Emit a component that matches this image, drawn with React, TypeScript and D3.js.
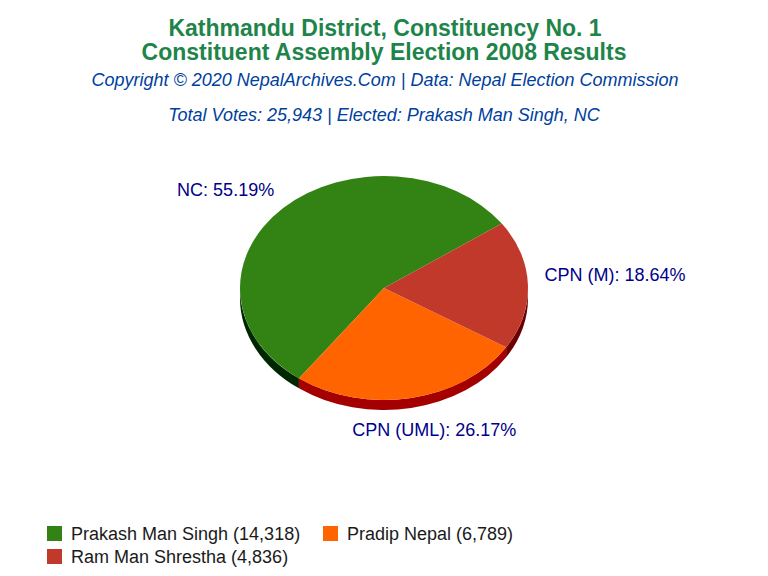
import React from "react";
import * as d3 from "d3";

const parties = ["NC", "CPN (UML)", "CPN (M)"];
const candidates = ["Prakash Man Singh", "Pradip Nepal", "Ram Man Shrestha"];
const votes = [14318, 6789, 4836];
const percents = ["55.19%", "26.17%", "18.64%"];
const topColors = ["#328214", "#ff6400", "#c0392b"];
const sideColors = ["#002800", "#a50000", "#6b0000"];

const width = 768;
const height = 576;
const cx = 384;
const cy = 288;
const rx = 144;
const ry = 112;
const depth = 10;
const startDeg = 54.9;

const FONT = "'Liberation Sans', Arial, sans-serif";

// label placement relative to the slice's outer edge
const labelOffsets: { dx: number; dy: number; anchor: string }[] = [
  { dx: -9, dy: -12, anchor: "end" },
  { dx: 23, dy: 38, anchor: "middle" },
  { dx: 16.5, dy: -4, anchor: "start" },
];

const rad = (d: number) => (d * Math.PI) / 180;

const slices = d3
  .pie<number>()
  .sort(null)
  .startAngle(rad(startDeg))
  .endAngle(rad(startDeg - 360))(votes);

const arcGen = d3.arc<any>().innerRadius(0).outerRadius(1);

// Front wall of a slice, in unit circle space. Only the lower half of the pie shows it.
function sidePath(a0: number, a1: number) {
  const lo = Math.min(a0, a1);
  const hi = Math.max(a0, a1);
  const parts: string[] = [];
  // check both windows since slices can cross -180 deg
  [[Math.PI / 2, (3 * Math.PI) / 2], [-(3 * Math.PI) / 2, -Math.PI / 2]].forEach(([w0, w1]) => {
    const s = Math.max(lo, w0);
    const e = Math.min(hi, w1);
    if (e <= s) return;
    const off = depth / ry;
    const p = d3.path();
    // d3 pie angles are clockwise from 12 o'clock, d3.path from 3 o'clock
    const c0 = s - Math.PI / 2;
    const c1 = e - Math.PI / 2;
    p.moveTo(Math.cos(c0), Math.sin(c0));
    p.arc(0, 0, 1, c0, c1, false);
    p.lineTo(Math.cos(c1), Math.sin(c1) + off);
    p.arc(0, off, 1, c1, c0, true);
    p.closePath();
    parts.push(p.toString());
  });
  return parts.join(" ");
}

export default function App() {
  return (
    <svg
      width={width}
      height={height}
      style={{ position: "absolute", left: 0, top: 0, background: "#fff" }}
      fontFamily={FONT}
    >
      <g textAnchor="middle">
        <text x={cx + 1} y={36} fontSize={23} fontWeight="bold" fill="#1e8449">
          Kathmandu District, Constituency No. 1
        </text>
        <text x={cx} y={60} fontSize={23} fontWeight="bold" fill="#1e8449">
          Constituent Assembly Election 2008 Results
        </text>
        <text x={cx + 1} y={86} fontSize={18} fontStyle="italic" fill="#003f9e">
          Copyright © 2020 NepalArchives.Com | Data: Nepal Election Commission
        </text>
        <text x={cx} y={121} fontSize={18} fontStyle="italic" fill="#003f9e">
          Total Votes: 25,943 | Elected: Prakash Man Singh, NC
        </text>
      </g>

      <g transform={`translate(${cx},${cy}) scale(${rx},${ry})`}>
        {slices.map((s, i) => (
          <path key={i} d={sidePath(s.startAngle, s.endAngle)} fill={sideColors[i]} />
        ))}
        {slices.map((s, i) => (
          <path key={i} d={arcGen(s) as string} fill={topColors[i]} />
        ))}
      </g>

      {slices.map((s, i) => {
        const mid = (s.startAngle + s.endAngle) / 2;
        const o = labelOffsets[i];
        return (
          <text
            key={i}
            x={cx + rx * Math.sin(mid) + o.dx}
            y={cy - ry * Math.cos(mid) + o.dy}
            textAnchor={o.anchor}
            fontSize={18}
            fill="#00008b"
          >
            {parties[i]}: {percents[i]}
          </text>
        );
      })}

      {candidates.map((c, i) => {
        const x = i === 1 ? 323 : 47;
        const y = i === 2 ? 549 : 526;
        return (
          <g key={c}>
            <rect x={x} y={y} width={15} height={15} fill={topColors[i]} />
            <text x={x + 24} y={y + 13.5} fontSize={18} fill="#1a1a1a">
              {c} ({d3.format(",")(votes[i])})
            </text>
          </g>
        );
      })}
    </svg>
  );
}
